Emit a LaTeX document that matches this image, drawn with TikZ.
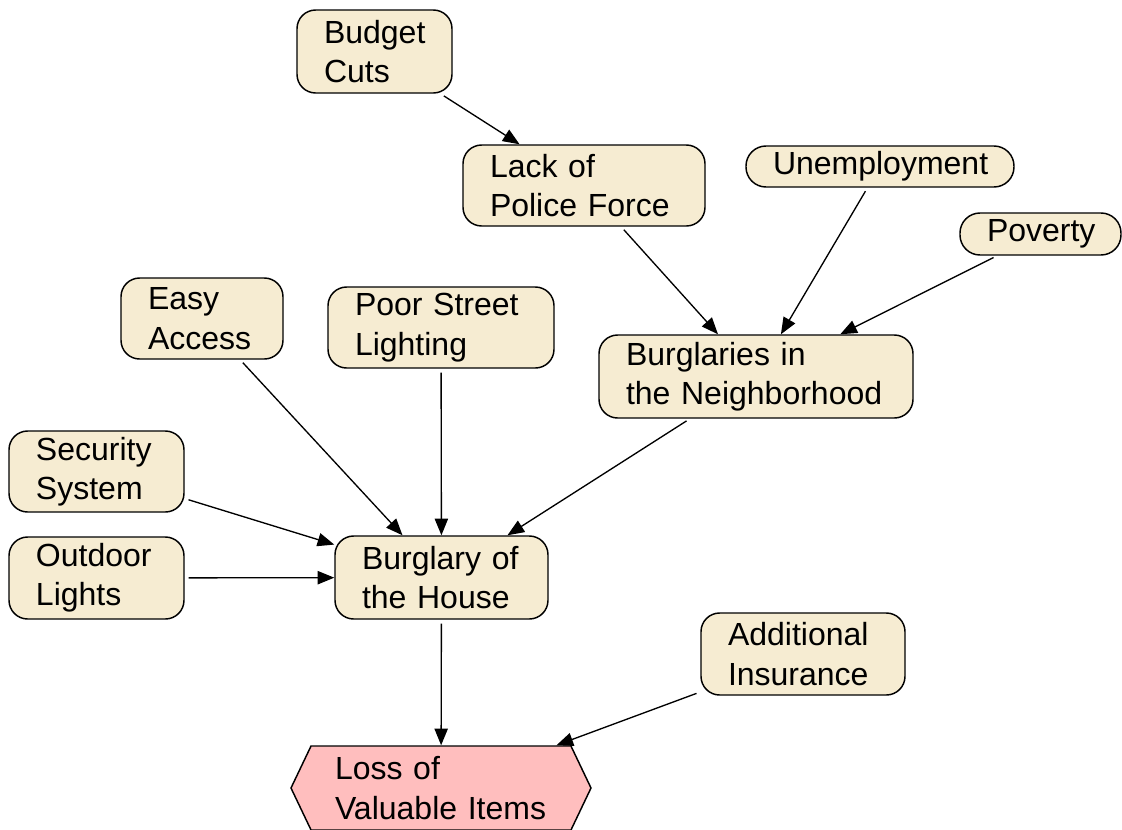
\documentclass[tikz,border=0pt]{standalone}
\usepackage{fontspec}
\setmainfont{Liberation Sans}
\usetikzlibrary{arrows.meta,shapes.symbols}
\definecolor{boxfill}{RGB}{246,236,210}
\definecolor{lossfill}{RGB}{255,190,190}
\begin{document}
\begin{tikzpicture}[x=0.75pt,y=-0.75pt,
  box/.style={draw, line width=1.1pt, rounded corners=14pt, fill=boxfill, align=left, inner sep=0pt, font=\fontsize{24}{29.5}\selectfont},
  pill/.style={box, rounded corners=15pt},
  lossbox/.style={draw, line width=1.1pt, fill=lossfill, signal, signal to=west and east, signal pointer angle=129, align=left, inner sep=0pt, font=\fontsize{24}{29.5}\selectfont},
  link/.style={-{Triangle[length=12.5pt,width=10pt]}, line width=1pt, shorten <=3pt}]
\useasboundingbox (0,0) rectangle (1122,829);
\node[box, minimum width=116.25pt, minimum height=62.25pt, text width=75.75pt] (budget) at (374.5,51.5) {Budget\\Cuts};
\node[box, minimum width=181.5pt, minimum height=60.75pt, text width=141pt] (lack) at (584,185.5) {Lack of\\Police Force};
\node[pill, minimum width=201pt, minimum height=30.75pt, text width=160.5pt] (unemp) at (880,166.5) {Unemployment};
\node[pill, minimum width=120.75pt, minimum height=31.5pt, text width=80.25pt] (poverty) at (1040.5,234) {Poverty};
\node[box, minimum width=121.5pt, minimum height=60.75pt, text width=81pt] (easy) at (202,318.5) {Easy\\Access};
\node[box, minimum width=169.5pt, minimum height=60.75pt, text width=129pt] (poor) at (441,327.5) {Poor Street\\Lighting};
\node[box, minimum width=235.5pt, minimum height=62.25pt, text width=195pt] (neigh) at (756,376.5) {Burglaries in\\the Neighborhood};
\node[box, minimum width=131.25pt, minimum height=60.75pt, text width=90.75pt] (security) at (96.5,471.5) {Security\\System};
\node[box, minimum width=131.25pt, minimum height=61.5pt, text width=90.75pt] (outdoor) at (96.5,578) {Outdoor\\Lights};
\node[box, minimum width=159.75pt, minimum height=62.25pt, text width=119.25pt] (house) at (441.5,577.5) {Burglary of\\the House};
\node[box, minimum width=153pt, minimum height=61.5pt, text width=112.5pt] (insur) at (803,654) {Additional\\Insurance};
\node[lossbox, minimum width=225pt, minimum height=63pt, text width=159pt] (loss) at (441,788) {Loss of\\Valuable Items};
\draw[link] (budget) -- (lack);
\draw[link] (lack) -- (neigh);
\draw[link] (unemp) -- (neigh);
\draw[link] (poverty) -- (neigh);
\draw[link] (easy) -- (house);
\draw[link] (poor) -- (house);
\draw[link] (neigh) -- (house);
\draw[link] (security) -- (house);
\draw[link] (outdoor) -- (house);
\draw[link] (house) -- (loss);
\draw[link] (insur) -- (loss);
\end{tikzpicture}
\end{document}
